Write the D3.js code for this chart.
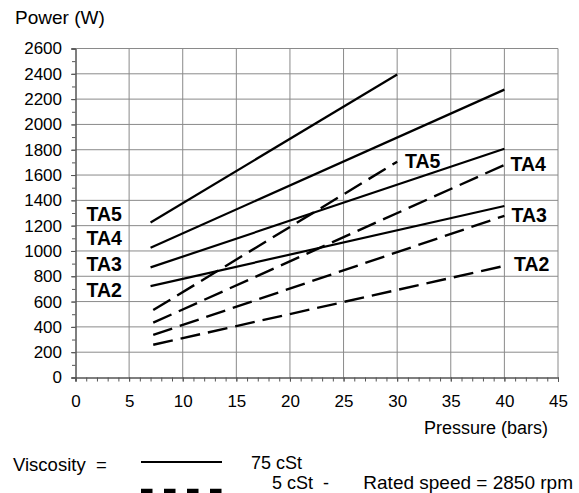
<!DOCTYPE html>
<html>
<head>
<meta charset="utf-8">
<script src="https://cdn.jsdelivr.net/npm/d3@7"></script>
<style>
  body { margin:0; background:#fff; }
  text { font-family: Arial, "Liberation Sans", sans-serif; fill:#000; }
</style>
</head>
<body>
<div id="chart"></div>
<script>
// pump models and power curves (W vs bars)
var models = ["TA5", "TA4", "TA3", "TA2"];
var pStart = [7, 7, 7, 7];
var pEnd = [30, 40, 40, 40];
var power75Start = [1225, 1025, 870, 722];
var power75End = [2395, 2275, 1808, 1355];
var dStart = [7.25, 7.25, 7.25, 7.25];
var power5Start = [533, 433, 336, 259];
var power5End = [1705, 1680, 1278, 882];
var xTicks = [0, 5, 10, 15, 20, 25, 30, 35, 40, 45];
var yTicks = [0, 200, 400, 600, 800, 1000, 1200, 1400, 1600, 1800, 2000, 2200, 2400, 2600];

var margin = { left:75.5, right:21, top:48.5, bottom:115.5 };
var width = 579 - margin.left - margin.right;
var height = 493 - margin.top - margin.bottom;

var svg = d3.select("#chart").append("svg")
    .attr("width", 579)
    .attr("height", 493);

var g = svg.append("g")
    .attr("transform", "translate(" + margin.left + "," + margin.top + ")");

var x = d3.scaleLinear().domain([0, 45]).range([0, width]);
var y = d3.scaleLinear().domain([0, 2600]).range([height, 0]);

// grid
g.selectAll(".vgrid").data(xTicks.slice(1)).enter().append("line")
    .attr("x1", function(d){ return x(d); }).attr("x2", function(d){ return x(d); })
    .attr("y1", 0).attr("y2", height)
    .attr("stroke", "#8a8a8a").attr("stroke-width", 1);
g.selectAll(".hgrid").data(yTicks.slice(1)).enter().append("line")
    .attr("x1", 0).attr("x2", width)
    .attr("y1", function(d){ return y(d); }).attr("y2", function(d){ return y(d); })
    .attr("stroke", "#8a8a8a").attr("stroke-width", 1);

// axes
g.append("g")
    .call(d3.axisLeft(y).tickValues(d3.range(0, 2601, 100)).tickSize(3.5).tickFormat(""));
g.append("g")
    .call(d3.axisLeft(y).tickValues(yTicks).tickSize(4.5).tickPadding(9).tickFormat(d3.format("d")));
g.append("g")
    .attr("transform", "translate(0," + height + ")")
    .call(d3.axisBottom(x).tickValues(d3.range(0, 46, 1)).tickSize(4).tickFormat(""));
g.append("g")
    .attr("transform", "translate(0," + height + ")")
    .call(d3.axisBottom(x).tickValues(xTicks).tickSize(4).tickPadding(13));
svg.selectAll(".domain").attr("stroke", "#555");
svg.selectAll(".tick line").attr("stroke", "#555");
svg.selectAll(".tick text").style("font-size", "17px").style("font-family", "Arial, 'Liberation Sans', sans-serif").attr("fill", "#000");

// curves
var line = d3.line().x(function(d){ return x(d[0]); }).y(function(d){ return y(d[1]); });
models.forEach(function(m, i){
  g.append("path")
    .datum([[pStart[i], power75Start[i]], [pEnd[i], power75End[i]]])
    .attr("d", line)
    .attr("fill", "none").attr("stroke", "#000").attr("stroke-width", 2.2);
  g.append("path")
    .datum([[dStart[i], power5Start[i]], [pEnd[i], power5End[i]]])
    .attr("d", line)
    .attr("fill", "none").attr("stroke", "#000").attr("stroke-width", 2.4)
    .attr("stroke-dasharray", "20,8");
});

// model labels
var leftLabY = [221, 244.5, 270.5, 296.5];
var rightLab = [[405, 167.5], [510.5, 171], [511.5, 221.5], [514, 270.5]];
models.forEach(function(m, i){
  svg.append("text").attr("x", 86.5).attr("y", leftLabY[i])
    .style("font-size", "19.5px").style("font-weight", "bold").text(m);
  svg.append("text").attr("x", rightLab[i][0]).attr("y", rightLab[i][1])
    .style("font-size", "19.5px").style("font-weight", "bold").text(m);
});

// titles
svg.append("text").attr("x", 15).attr("y", 24).style("font-size", "19px").text("Power (W)");
svg.append("text").attr("x", 548).attr("y", 434).attr("text-anchor", "end")
    .style("font-size", "18px").text("Pressure (bars)");

// legend
svg.append("text").attr("x", 13).attr("y", 471).style("font-size", "18.5px")
    .attr("xml:space", "preserve").text("Viscosity  =");
svg.append("line").attr("x1", 141).attr("x2", 222).attr("y1", 462).attr("y2", 462)
    .attr("stroke", "#000").attr("stroke-width", 2.2);
svg.append("line").attr("x1", 141).attr("x2", 222).attr("y1", 491).attr("y2", 491)
    .attr("stroke", "#000").attr("stroke-width", 4.5).attr("stroke-dasharray", "11.5,11.5");
svg.append("text").attr("x", 251).attr("y", 469).style("font-size", "18px").text("75 cSt");
svg.append("text").attr("x", 272).attr("y", 489).style("font-size", "18px").text("5 cSt");
svg.append("text").attr("x", 323).attr("y", 489).style("font-size", "18px").text("-");
svg.append("text").attr("x", 573).attr("y", 489).attr("text-anchor", "end")
    .style("font-size", "19px").text("Rated speed = 2850 rpm");
</script>
</body>
</html>
